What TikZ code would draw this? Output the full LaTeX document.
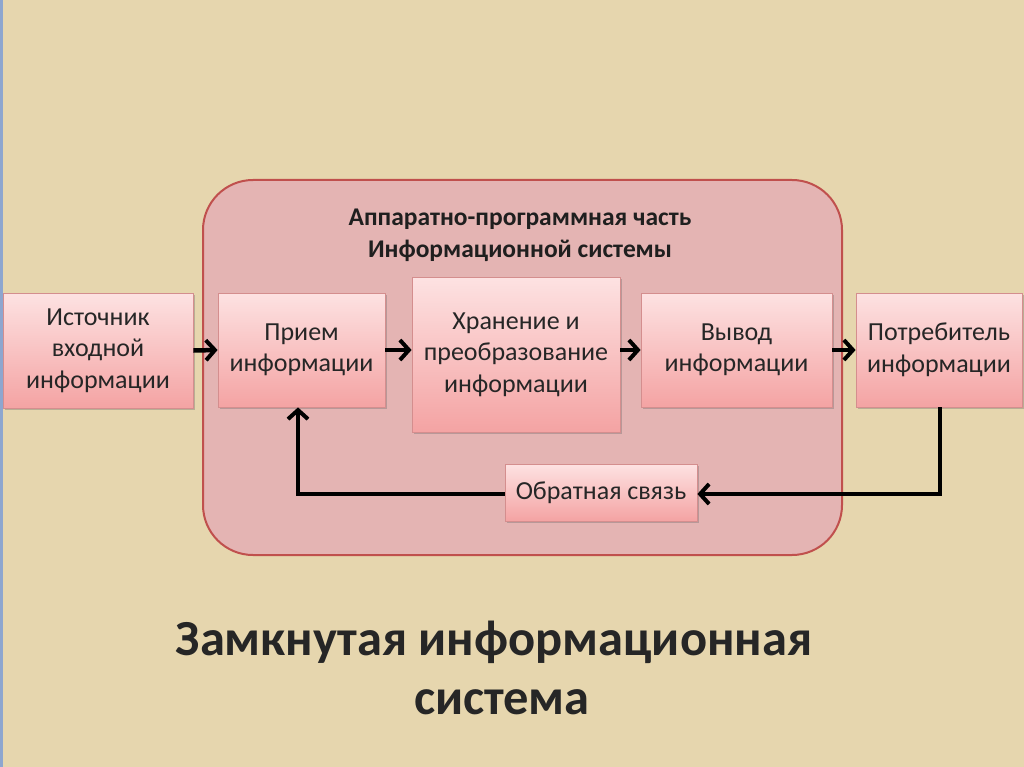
\documentclass[tikz,border=0pt]{standalone}
\usepackage{fontspec}
\setmainfont{Carlito}
\usetikzlibrary{arrows.meta,shadows}
\definecolor{bgc}{HTML}{E6D6AE}
\definecolor{contfill}{HTML}{E4B4B3}
\definecolor{contdraw}{HTML}{C0504D}
\definecolor{boxtop}{HTML}{FDE2E2}
\definecolor{boxbot}{HTML}{F4A3A3}
\definecolor{boxdraw}{HTML}{D48E8E}
\definecolor{edgeblue}{HTML}{8EA6CF}
\tikzset{
  pbox/.style={rectangle, draw=boxdraw, line width=0.8pt, top color=boxtop, bottom color=boxbot,
    align=center, font=\fontsize{26}{31.5}\selectfont, text=black!85, inner sep=2pt,
    drop shadow={shadow xshift=2pt, shadow yshift=-2pt, opacity=0.35, fill=black!60}},
  flow/.style={line width=4.5pt, -{Straight Barb[length=9pt,width=20pt,line width=4pt]}},
}
\begin{document}
\begin{tikzpicture}[x=1pt,y=-1pt]
\fill[bgc] (0,0) rectangle (1024,767);
\useasboundingbox (0,0) rectangle (1024,767);
\fill[edgeblue] (0,0) rectangle (3,767);
% container
\draw[draw=contdraw, line width=2pt, fill=contfill, rounded corners=50pt] (203,180) rectangle (842,555);
\node[font=\bfseries\fontsize{25.5}{32}\selectfont, align=center, text=black!88] (ctitle) at (520,235) {Аппаратно-программная часть\\Информационной системы};
% boxes
\node[pbox, minimum width=190pt, minimum height=115pt] (src) at (98,350.5) {Источник\\входной\\информации};
\node[pbox, minimum width=167pt, minimum height=114pt] (recv) at (301.5,350) {Прием\\информации};
\node[pbox, minimum width=208pt, minimum height=155pt] (store) at (516,354.5) {Хранение и\\преобразование\\информации};
\node[pbox, minimum width=191pt, minimum height=114pt] (out) at (736.5,350) {Вывод\\информации};
\node[pbox, minimum width=166pt, minimum height=114pt] (cons) at (939,350) {Потребитель\\информации};
\node[pbox, minimum width=192pt, minimum height=57pt] (fb) at (601,492.5) {Обратная связь};
% arrows
\draw[flow] (src.east) -- (recv.west);
\draw[flow] (recv.east) -- (store.west |- recv.east);
\draw[flow] (store.east |- out.west) -- (out.west);
\draw[flow] (out.east) -- (cons.west);
\coordinate (c1) at (940,494);
\coordinate (c2) at (298,494);
\draw[flow] (cons.south -| c1) -- (c1) -- (fb.east |- c1);
\draw[flow] (fb.west |- c2) -- (c2) -- (recv.south -| c2);
% title
\node[font=\bfseries\fontsize{50.5}{59}\selectfont, align=center, text=black!85] (title) at (494,668) {Замкнутая информационная\\\hspace*{16pt}система};
\end{tikzpicture}
\end{document}
